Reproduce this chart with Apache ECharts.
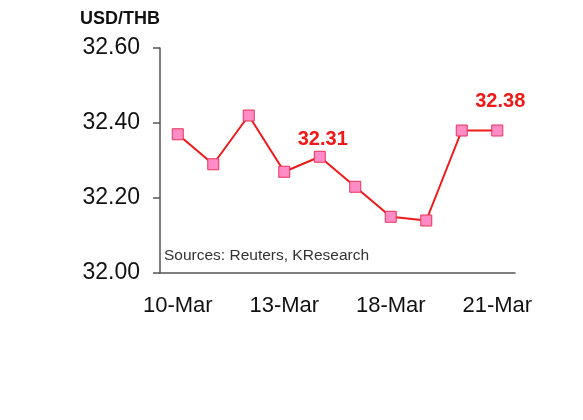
<!DOCTYPE html>
<html><head><meta charset="utf-8">
<script src="https://cdn.jsdelivr.net/npm/echarts@6/dist/echarts.min.js"></script>
<style>html,body{margin:0;padding:0;background:#fff}#c{width:583px;height:420px}</style>
</head><body><div id="c"></div>
<script>
const categories = ['10-Mar','11-Mar','12-Mar','13-Mar','14-Mar','17-Mar','18-Mar','19-Mar','20-Mar','21-Mar'];
const usdThb = [32.37, 32.29, 32.42, 32.27, 32.31, 32.23, 32.15, 32.14, 32.38, 32.38];
const labelledIdx = [4, 9];
const labelOffsetsY = [0, 0, 0, 0, 4, 0, 0, 0, 0, -8];
const yTicks = [32.00, 32.20, 32.40, 32.60];

const FONT = 'Arial, "Liberation Sans", sans-serif';
const chart = echarts.init(document.getElementById('c'));
const data = usdThb.map((v, i) => {
  const d = { value: v };
  if (labelledIdx.includes(i)) {
    d.label = { show: true, position: 'top', offset: [3, labelOffsetsY[i]], formatter: p => p.value.toFixed(2),
      color: '#f01818', fontWeight: 'bold', fontSize: 20, fontFamily: FONT };
  }
  return d;
});
chart.setOption({
  animation: false,
  grid: { left: 160, right: 68, top: 48, bottom: 147 },
  graphic: [
    { type: 'text', left: 80, top: 10, style: { text: 'USD/THB', font: 'bold 18px ' + FONT, fill: '#111' } },
    { type: 'text', left: 164, top: 248, style: { text: 'Sources: Reuters, KResearch', font: '15.5px ' + FONT, fill: '#333' } }
  ],
  xAxis: {
    type: 'category', data: categories, boundaryGap: true,
    axisLine: { lineStyle: { color: '#555', width: 1.5 } },
    axisTick: { interval: 3, length: 7, lineStyle: { color: '#555', width: 1.5 } },
    axisLabel: { interval: 2, color: '#111', fontSize: 22, margin: 22, fontFamily: FONT }
  },
  yAxis: {
    type: 'value', min: yTicks[0], max: yTicks[yTicks.length - 1], interval: 0.2,
    splitLine: { show: false },
    axisLine: { show: true, lineStyle: { color: '#555', width: 1.5 } },
    axisTick: { show: true, length: 7, lineStyle: { color: '#555', width: 1.5 } },
    axisLabel: { color: '#111', fontSize: 23, margin: 20, formatter: v => v.toFixed(2), fontFamily: FONT }
  },
  series: [{
    type: 'line', data: data, symbol: 'rect', symbolSize: 11,
    lineStyle: { color: '#f01818', width: 2 },
    itemStyle: { color: '#ff8cc6', borderColor: '#e8305a', borderWidth: 1 }
  }]
});
</script></body></html>
